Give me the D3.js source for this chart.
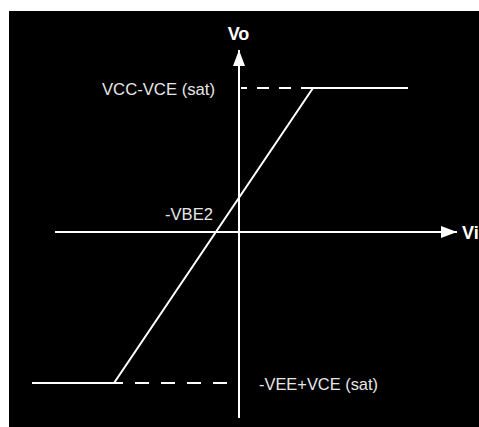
<!DOCTYPE html>
<html>
<head>
<meta charset="utf-8">
<script src="https://cdn.jsdelivr.net/npm/d3@7"></script>
<style>
  body { margin: 0; background: #fff; }
  svg { display: block; }
</style>
</head>
<body>
<div id="chart-area"></div>
<script>
const W = 479, H = 427;

// transfer characteristic (Vi, Vo), arbitrary units
const curveVi = [-20.7, -12.5, 7.4, 16.9];
const curveVo = [-15.1, -15.1, 14.4, 14.4];
// axis extents
const viAxis = [-18.4, 21.8];
const voAxis = [-18.6, 18.2];
// dashed reference levels (drawn from curve corner toward Vo axis)
const satLevels = ['high', 'low'];
const satDashVi = [[7.4, 0.2], [-1.2, -12.5]];
const satDashVo = [14.4, -15.1];
const labels = ['VCC-VCE (sat)', '-VBE2', '-VEE+VCE (sat)'];
const labelVi = [-2.4, -2.6, 2.0];
const labelVo = [14.4, 1.9, -15.1];
const labelLen = [113, 48, 119];

const svg = d3.select('#chart-area')
  .append('svg')
  .attr('width', W)
  .attr('height', H);

svg.append('rect')
  .attr('x', 9).attr('y', 11)
  .attr('width', W - 9).attr('height', H - 11)
  .attr('fill', '#000');

const x = d3.scaleLinear().domain([-20, 20]).range([39, 439]);
const y = d3.scaleLinear().domain([-20, 20]).range([432, 32]);

const defs = svg.append('defs');
defs.append('marker')
  .attr('id', 'arrow')
  .attr('viewBox', '0 0 16 12')
  .attr('refX', 16).attr('refY', 6)
  .attr('markerWidth', 16).attr('markerHeight', 12)
  .attr('markerUnits', 'userSpaceOnUse')
  .attr('orient', 'auto')
  .append('path')
  .attr('d', 'M0,0L16,6L0,12Z')
  .attr('fill', '#fff');

// axes
svg.append('line')
  .attr('x1', x(viAxis[0])).attr('x2', x(viAxis[1]))
  .attr('y1', y(0)).attr('y2', y(0))
  .attr('stroke', '#fff').attr('stroke-width', 2)
  .attr('marker-end', 'url(#arrow)');

svg.append('line')
  .attr('x1', x(0)).attr('x2', x(0))
  .attr('y1', y(voAxis[0])).attr('y2', y(voAxis[1]))
  .attr('stroke', '#fff').attr('stroke-width', 2)
  .attr('marker-end', 'url(#arrow)');

// dashed saturation levels
satLevels.forEach((s, i) => {
  svg.append('line')
    .attr('x1', x(satDashVi[i][0])).attr('x2', x(satDashVi[i][1]))
    .attr('y1', y(satDashVo[i])).attr('y2', y(satDashVo[i]))
    .attr('stroke', '#fff').attr('stroke-width', 2)
    .attr('stroke-dasharray', i == 0 ? '12,10' : '14,12');
});

// transfer curve
const line = d3.line()
  .x((d, i) => x(curveVi[i]))
  .y((d, i) => y(curveVo[i]));

svg.append('path')
  .datum(curveVi)
  .attr('d', line)
  .attr('fill', 'none')
  .attr('stroke', '#fff')
  .attr('stroke-width', 2);

// labels
labels.forEach((t, i) => {
  svg.append('text')
    .attr('x', x(labelVi[i]))
    .attr('y', y(labelVo[i]) + 6.5)
    .attr('text-anchor', i == 2 ? 'start' : 'end')
    .attr('font-family', 'Liberation Sans, Arial, sans-serif')
    .attr('font-size', '17px')
    .attr('textLength', labelLen[i])
    .attr('lengthAdjust', 'spacingAndGlyphs')
    .attr('fill', '#e6e6e6')
    .text(t);
});

svg.append('text')
  .attr('x', x(0) - 0.5)
  .attr('y', 40)
  .attr('text-anchor', 'middle')
  .attr('font-family', 'Liberation Sans, Arial, sans-serif')
  .attr('font-weight', 'bold')
  .attr('font-size', '18px')
  .attr('fill', '#fff')
  .text('Vo');

svg.append('text')
  .attr('x', 462)
  .attr('y', y(0) + 6.5)
  .attr('font-family', 'Liberation Sans, Arial, sans-serif')
  .attr('font-weight', 'bold')
  .attr('font-size', '18px')
  .attr('fill', '#fff')
  .text('Vi');
</script>
</body>
</html>
